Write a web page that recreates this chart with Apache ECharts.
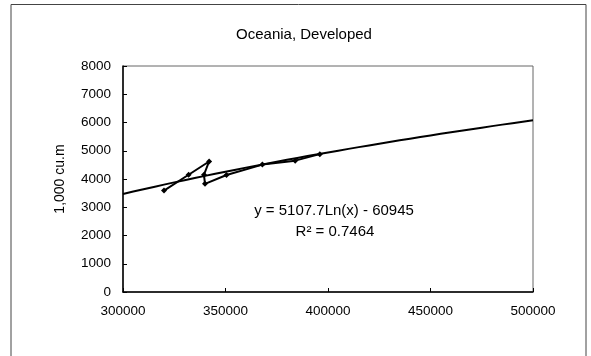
<!DOCTYPE html>
<html>
<head>
<meta charset="utf-8">
<script src="https://cdn.jsdelivr.net/npm/echarts@6/dist/echarts.min.js"></script>
<style>
  html, body { margin: 0; padding: 0; background: #fff; }
  #chart { width: 591px; height: 356px; }
</style>
</head>
<body>
<div id="chart"></div>
<script>
// Consumption (x) against volume in 1,000 cu.m (y), year by year
const consumption = [320000, 332000, 342000, 339500, 340000, 350500, 368000, 384000, 396000];
const volume      = [3590,   4150,   4620,   4150,   3830,   4140,   4510,   4650,   4880];

// Logarithmic trend line as stated on the chart: y = a·ln(x) + b
const trendA = 5107.7;
const trendB = -60945;
const trendLabel = 'y = 5107.7Ln(x) - 60945';
const r2Label = 'R² = 0.7464';

const xTicks = [300000, 350000, 400000, 450000, 500000];
const yTicks = [0, 1000, 2000, 3000, 4000, 5000, 6000, 7000, 8000];

const observed = consumption.map((x, i) => [x, volume[i]]);

// sample the fitted curve across the x axis
const trend = [];
for (let x = xTicks[0]; x <= xTicks[xTicks.length - 1]; x += 5000) {
  trend.push([x, trendA * Math.log(x) + trendB]);
}

const font = 'Liberation Sans, Arial, Helvetica, sans-serif';
const plain = v => String(v);
const chart = echarts.init(document.getElementById('chart'));
chart.setOption({
  animation: false,
  backgroundColor: '#fff',
  title: {
    text: 'Oceania, Developed',
    left: 299, top: 22, textAlign: 'center',
    textStyle: { fontFamily: font, fontSize: 15, fontWeight: 'normal', color: '#000' }
  },
  grid: {
    left: 123, top: 66, width: 410, height: 226,
    show: true, borderColor: '#666', borderWidth: 1, backgroundColor: 'transparent'
  },
  xAxis: {
    type: 'value',
    min: xTicks[0], max: xTicks[xTicks.length - 1], interval: 50000,
    axisLine: { show: true, onZero: false, lineStyle: { color: '#000', width: 1.5 } },
    axisTick: { show: true, inside: true, length: 4, lineStyle: { color: '#000' } },
    axisLabel: { margin: 12, color: '#000', fontFamily: font, fontSize: 13.5, formatter: plain },
    splitLine: { show: false }
  },
  yAxis: {
    type: 'value',
    min: yTicks[0], max: yTicks[yTicks.length - 1], interval: 1000,
    name: '1,000 cu.m', nameLocation: 'middle', nameGap: 56, nameRotate: 90,
    nameTextStyle: { color: '#000', fontFamily: font, fontSize: 14 },
    axisLine: { show: true, lineStyle: { color: '#000', width: 1.5 } },
    axisTick: { show: true, inside: true, length: 4, lineStyle: { color: '#000' } },
    axisLabel: { margin: 12, color: '#000', fontFamily: font, fontSize: 13.5, formatter: plain },
    splitLine: { show: false }
  },
  series: [
    {
      type: 'line', data: trend, showSymbol: false, symbol: 'none',
      lineStyle: { color: '#000', width: 2 }, z: 2
    },
    {
      type: 'line', data: observed, symbol: 'diamond', symbolSize: 6,
      itemStyle: { color: '#000' },
      lineStyle: { color: '#000', width: 2 }, z: 3
    }
  ],
  graphic: [
    {
      type: 'polyline', silent: true,
      shape: { points: [[11, 360], [11, 4.5], [586, 4.5], [586, 360]] },
      style: { stroke: '#444', lineWidth: 1, fill: null }
    },
    {
      type: 'text', silent: true,
      style: {
        text: trendLabel, x: 334, y: 211, textAlign: 'center', textVerticalAlign: 'middle',
        font: '15px ' + font, fill: '#000'
      }
    },
    {
      type: 'text', silent: true,
      style: {
        text: r2Label, x: 335, y: 232, textAlign: 'center', textVerticalAlign: 'middle',
        font: '15px ' + font, fill: '#000'
      }
    }
  ]
});
</script>
</body>
</html>
